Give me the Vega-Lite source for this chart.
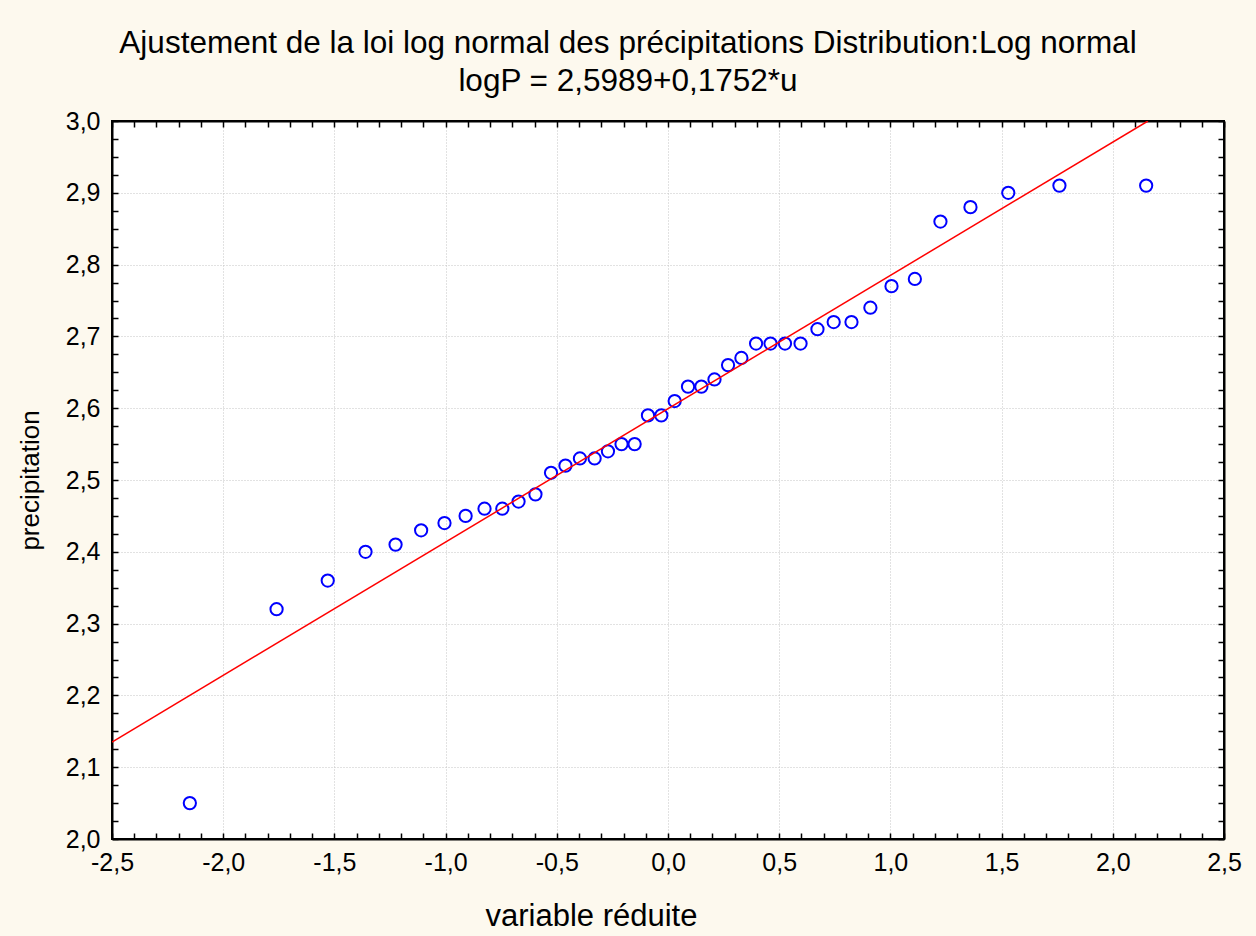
{
  "$schema": "https://vega.github.io/schema/vega-lite/v6.json",
  "width": 1112,
  "height": 718,
  "autosize": "none",
  "padding": {"left": 112, "top": 121, "right": 32, "bottom": 97},
  "background": "#FDF9EE",
  "config": {
    "font": "Liberation Sans",
    "view": {"fill": "white", "stroke": "black", "strokeWidth": 2},
    "axis": {
      "domainColor": "black",
      "domainWidth": 2,
      "tickColor": "black",
      "tickWidth": 1.5,
      "tickSize": -6,
      "labelColor": "black",
      "labelFontSize": 25,
      "labelFont": "Liberation Sans",
      "labelOverlap": false,
      "labelFlush": false,
      "titleFont": "Liberation Sans",
      "titleFontWeight": "normal",
      "titleColor": "black",
      "gridColor": "#c4c4c4",
      "gridDash": [1, 2],
      "gridWidth": 1
    }
  },
  "title": {
    "text": ["Ajustement de la loi log normal des précipitations Distribution:Log normal", "logP = 2,5989+0,1752*u"],
    "fontSize": 31.5,
    "fontWeight": "normal",
    "font": "Liberation Sans",
    "color": "black",
    "lineHeight": 38,
    "anchor": "middle",
    "dx": -40,
    "offset": 12
  },
  "datasets": {
    "pts": [
      {"u": -2.15, "P": 2.05}, {"u": -1.76, "P": 2.32}, {"u": -1.53, "P": 2.36}, {"u": -1.36, "P": 2.40},
      {"u": -1.225, "P": 2.41}, {"u": -1.11, "P": 2.43}, {"u": -1.005, "P": 2.44}, {"u": -0.91, "P": 2.45},
      {"u": -0.825, "P": 2.46}, {"u": -0.745, "P": 2.46}, {"u": -0.672, "P": 2.47}, {"u": -0.596, "P": 2.48},
      {"u": -0.526, "P": 2.51}, {"u": -0.461, "P": 2.52}, {"u": -0.396, "P": 2.53}, {"u": -0.33, "P": 2.53},
      {"u": -0.27, "P": 2.54}, {"u": -0.209, "P": 2.55}, {"u": -0.15, "P": 2.55}, {"u": -0.09, "P": 2.59},
      {"u": -0.03, "P": 2.59}, {"u": 0.03, "P": 2.61}, {"u": 0.09, "P": 2.63}, {"u": 0.15, "P": 2.63},
      {"u": 0.209, "P": 2.64}, {"u": 0.27, "P": 2.66}, {"u": 0.33, "P": 2.67}, {"u": 0.396, "P": 2.69},
      {"u": 0.461, "P": 2.69}, {"u": 0.526, "P": 2.69}, {"u": 0.596, "P": 2.69}, {"u": 0.672, "P": 2.71},
      {"u": 0.745, "P": 2.72}, {"u": 0.825, "P": 2.72}, {"u": 0.91, "P": 2.74}, {"u": 1.005, "P": 2.77},
      {"u": 1.11, "P": 2.78}, {"u": 1.225, "P": 2.86}, {"u": 1.36, "P": 2.88}, {"u": 1.53, "P": 2.90},
      {"u": 1.76, "P": 2.91}, {"u": 2.15, "P": 2.91}
    ],
    "fit": [
      {"u": -2.5, "P": 2.135},
      {"u": 2.158, "P": 3.0}
    ]
  },
  "layer": [
    {
      "data": {"name": "pts"},
      "mark": {"type": "point", "shape": "circle", "filled": false, "stroke": "#0000FF", "strokeWidth": 2, "size": 150, "opacity": 1},
      "encoding": {
        "x": {
          "field": "u", "type": "quantitative",
          "scale": {"domain": [-2.5, 2.5], "nice": false, "zero": false},
          "axis": {
            "orient": "bottom",
            "title": "variable réduite",
            "titleFontSize": 31,
            "titleX": 479,
            "titleY": 86,
            "titleBaseline": "alphabetic",
            "titleAlign": "center",
            "values": [-2.5,-2.4,-2.3,-2.2,-2.1,-2.0,-1.9,-1.8,-1.7,-1.6,-1.5,-1.4,-1.3,-1.2,-1.1,-1.0,-0.9,-0.8,-0.7,-0.6,-0.5,-0.4,-0.3,-0.2,-0.1,0,0.1,0.2,0.3,0.4,0.5,0.6,0.7,0.8,0.9,1.0,1.1,1.2,1.3,1.4,1.5,1.6,1.7,1.8,1.9,2.0,2.1,2.2,2.3,2.4,2.5],
            "labelExpr": "abs(datum.value*2 - round(datum.value*2)) < 0.01 ? replace(replace(format(datum.value, '.1f'), '.', ','), '−', '-') : ''",
            "labelPadding": 17,
            "grid": true,
            "gridOpacity": {"condition": {"test": "abs(datum.value*2 - round(datum.value*2)) < 0.01 && abs(datum.value) < 2.49", "value": 1}, "value": 0}
          }
        },
        "y": {
          "field": "P", "type": "quantitative",
          "scale": {"domain": [2.0, 3.0], "nice": false, "zero": false},
          "axis": {
            "orient": "left",
            "title": "precipitation",
            "titleFontSize": 26,
            "titleX": -74,
            "titleY": 359,
            "titleAngle": -90,
            "titleBaseline": "alphabetic",
            "titleAlign": "center",
            "values": [2.0,2.025,2.05,2.075,2.1,2.125,2.15,2.175,2.2,2.225,2.25,2.275,2.3,2.325,2.35,2.375,2.4,2.425,2.45,2.475,2.5,2.525,2.55,2.575,2.6,2.625,2.65,2.675,2.7,2.725,2.75,2.775,2.8,2.825,2.85,2.875,2.9,2.925,2.95,2.975,3.0],
            "labelExpr": "abs(datum.value*10 - round(datum.value*10)) < 0.01 ? replace(format(datum.value, '.1f'), '.', ',') : ''",
            "labelPadding": 18,
            "grid": true,
            "gridOpacity": {"condition": {"test": "abs(datum.value*10 - round(datum.value*10)) < 0.01 && datum.value > 2.01 && datum.value < 2.99", "value": 1}, "value": 0}
          }
        }
      }
    },
    {
      "data": {"name": "fit"},
      "mark": {"type": "line", "color": "#FF0000", "strokeWidth": 1.5, "clip": true},
      "encoding": {
        "x": {
          "field": "u", "type": "quantitative",
          "axis": {
            "orient": "top", "title": null, "labels": false, "grid": false,
            "values": [-2.5,-2.4,-2.3,-2.2,-2.1,-2.0,-1.9,-1.8,-1.7,-1.6,-1.5,-1.4,-1.3,-1.2,-1.1,-1.0,-0.9,-0.8,-0.7,-0.6,-0.5,-0.4,-0.3,-0.2,-0.1,0,0.1,0.2,0.3,0.4,0.5,0.6,0.7,0.8,0.9,1.0,1.1,1.2,1.3,1.4,1.5,1.6,1.7,1.8,1.9,2.0,2.1,2.2,2.3,2.4,2.5]
          }
        },
        "y": {
          "field": "P", "type": "quantitative",
          "axis": {
            "orient": "right", "title": null, "labels": false, "grid": false,
            "values": [2.0,2.025,2.05,2.075,2.1,2.125,2.15,2.175,2.2,2.225,2.25,2.275,2.3,2.325,2.35,2.375,2.4,2.425,2.45,2.475,2.5,2.525,2.55,2.575,2.6,2.625,2.65,2.675,2.7,2.725,2.75,2.775,2.8,2.825,2.85,2.875,2.9,2.925,2.95,2.975,3.0]
          }
        }
      }
    }
  ],
  "resolve": {"axis": {"x": "independent", "y": "independent"}}
}
